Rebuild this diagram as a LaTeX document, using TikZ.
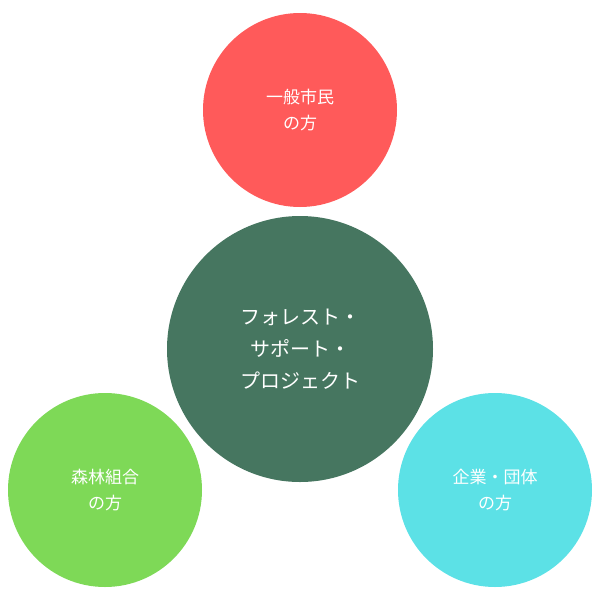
\documentclass[tikz,border=0pt]{standalone}
\usepackage{fontspec}
\newfontfamily\cjk{Noto Sans CJK JP}
\definecolor{cred}{HTML}{FF5A5A}
\definecolor{cdark}{HTML}{467660}
\definecolor{cgreen}{HTML}{7ED957}
\definecolor{ccyan}{HTML}{5CE1E6}
\begin{document}
\begin{tikzpicture}[x=1pt,y=-1pt,
  circ/.style={circle,inner sep=0pt,text=white,align=center,font=\cjk\fontsize{17}{26}\selectfont}]
\useasboundingbox (0,0) rectangle (600,600);
\node[circ,fill=cred,minimum size=194pt] (top) at (300,110) {一般市民\\の方};
\node[circ,fill=cdark,minimum size=266pt,font=\cjk\fontsize{20}{32}\selectfont] (mid) at (300,349) {フォレスト・\\サポート・\\プロジェクト};
\node[circ,fill=cgreen,minimum size=194pt] (left) at (105,490) {森林組合\\の方};
\node[circ,fill=ccyan,minimum size=194pt] (right) at (495,490) {企業・団体\\の方};
\end{tikzpicture}
\end{document}
